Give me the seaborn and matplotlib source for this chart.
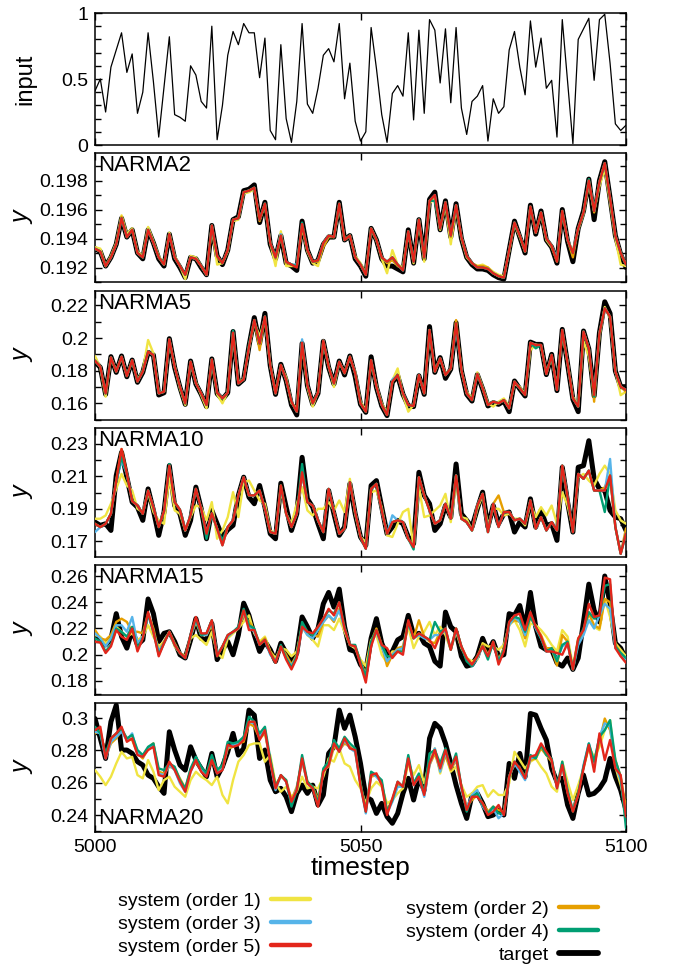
import numpy as np
import matplotlib
matplotlib.use("Agg")
import matplotlib.pyplot as plt
import seaborn as sns
from matplotlib.lines import Line2D
from matplotlib.ticker import MultipleLocator, FixedLocator, FuncFormatter

sns.set_style("ticks")
plt.rcParams["font.family"] = ["Liberation Sans", "DejaVu Sans"]
for key in ("text.color", "axes.labelcolor", "xtick.color", "ytick.color",
            "axes.edgecolor"):
    plt.rcParams[key] = "black"

T0 = 5000

# ---------------------------------------------------------------- input signal
u_input = [0.41, 0.5, 0.25, 0.59, 0.72, 0.85, 0.55, 0.69, 0.24, 0.4,
           0.85, 0.48, 0.06, 0.44, 0.82, 0.23, 0.21, 0.18, 0.6, 0.53,
           0.33, 0.28, 0.9, 0.04, 0.3, 0.68, 0.86, 0.76, 0.92, 0.85,
           0.85, 0.51, 0.81, 0.11, 0.04, 0.76, 0.2, 0.02, 0.33, 0.92,
           0.31, 0.24, 0.43, 0.68, 0.73, 0.63, 0.92, 0.35, 0.62, 0.18,
           0.03, 0.1, 0.89, 0.58, 0.23, 0.02, 0.39, 0.45, 0.37, 0.85,
           0.19, 0.87, 0.24, 0.95, 0.87, 0.47, 0.88, 0.32, 0.89, 0.28,
           0.08, 0.33, 0.37, 0.45, 0.03, 0.35, 0.24, 0.29, 0.72, 0.86,
           0.59, 0.38, 0.94, 0.59, 0.81, 0.43, 0.49, 0.06, 0.95, 0.48,
           0.01, 0.8, 0.88, 0.96, 0.49, 0.95, 0.99, 0.62, 0.16, 0.11,
           0.15]

# ---------------------------------------------------------------- NARMA2
n2_target = [0.1933, 0.1931, 0.1921, 0.1927, 0.1936, 0.1954, 0.1941, 0.1946, 0.1930, 0.1926,
             0.1946, 0.1937, 0.1926, 0.1921, 0.1943, 0.1926, 0.1920, 0.1913, 0.1927, 0.1926,
             0.1920, 0.1915, 0.1949, 0.1928, 0.1922, 0.1932, 0.1953, 0.1955, 0.1973, 0.1974,
             0.1977, 0.1951, 0.1965, 0.1936, 0.1926, 0.1942, 0.1923, 0.1921, 0.1918, 0.1952,
             0.1932, 0.1923, 0.1925, 0.1936, 0.1941, 0.1941, 0.1965, 0.1939, 0.1942, 0.1926,
             0.1921, 0.1914, 0.1947, 0.1939, 0.1926, 0.1921, 0.1921, 0.1919, 0.1917, 0.1946,
             0.1923, 0.1953, 0.1926, 0.1967, 0.1972, 0.1946, 0.1966, 0.1941, 0.1964, 0.1940,
             0.1927, 0.1922, 0.1919, 0.1919, 0.1918, 0.1915, 0.1913, 0.1912, 0.1932, 0.1952,
             0.1941, 0.1930, 0.1963, 0.1943, 0.1959, 0.1939, 0.1934, 0.1923, 0.1960, 0.1938,
             0.1924, 0.1947, 0.1959, 0.1981, 0.1953, 0.1980, 0.1993, 0.1968, 0.1942, 0.1929,
             0.1920]
n2_order1 = [0.1934, 0.1933, 0.1921, 0.1928, 0.1937, 0.1956, 0.1943, 0.1947, 0.1931, 0.1928,
             0.1948, 0.1938, 0.1928, 0.1922, 0.1944, 0.1928, 0.1921, 0.1912, 0.1928, 0.1927,
             0.1921, 0.1915, 0.1948, 0.1922, 0.1923, 0.1931, 0.1952, 0.1953, 0.1971, 0.1972,
             0.1974, 0.1953, 0.1963, 0.1937, 0.1921, 0.1945, 0.1921, 0.1921, 0.1921, 0.1948,
             0.1931, 0.1923, 0.1921, 0.1936, 0.1942, 0.1941, 0.1962, 0.1939, 0.1942, 0.1928,
             0.1923, 0.1916, 0.1946, 0.1939, 0.1926, 0.1916, 0.1932, 0.1922, 0.1920, 0.1944,
             0.1923, 0.1952, 0.1924, 0.1964, 0.1968, 0.1946, 0.1963, 0.1936, 0.1961, 0.1940,
             0.1927, 0.1923, 0.1921, 0.1922, 0.1920, 0.1917, 0.1915, 0.1914, 0.1931, 0.1950,
             0.1941, 0.1931, 0.1961, 0.1944, 0.1957, 0.1939, 0.1934, 0.1925, 0.1958, 0.1939,
             0.1931, 0.1946, 0.1957, 0.1978, 0.1959, 0.1976, 0.1988, 0.1965, 0.1940, 0.1922,
             0.1921]
n2_order2 = [0.1933, 0.1931, 0.1921, 0.1927, 0.1936, 0.1955, 0.1941, 0.1946, 0.1930, 0.1927,
             0.1946, 0.1937, 0.1927, 0.1922, 0.1943, 0.1927, 0.1921, 0.1915, 0.1927, 0.1926,
             0.1921, 0.1915, 0.1949, 0.1927, 0.1923, 0.1932, 0.1953, 0.1954, 0.1972, 0.1973,
             0.1975, 0.1952, 0.1964, 0.1937, 0.1926, 0.1942, 0.1923, 0.1922, 0.1921, 0.1949,
             0.1932, 0.1924, 0.1924, 0.1934, 0.1941, 0.1941, 0.1964, 0.1939, 0.1942, 0.1927,
             0.1922, 0.1915, 0.1947, 0.1939, 0.1927, 0.1923, 0.1925, 0.1921, 0.1919, 0.1945,
             0.1924, 0.1953, 0.1926, 0.1966, 0.1969, 0.1947, 0.1965, 0.1941, 0.1963, 0.1941,
             0.1928, 0.1923, 0.1921, 0.1921, 0.1920, 0.1916, 0.1914, 0.1913, 0.1932, 0.1951,
             0.1942, 0.1931, 0.1962, 0.1944, 0.1958, 0.1940, 0.1935, 0.1924, 0.1959, 0.1939,
             0.1927, 0.1947, 0.1958, 0.1980, 0.1958, 0.1979, 0.1992, 0.1968, 0.1942, 0.1930,
             0.1922]
n2_order3 = [0.1933, 0.1931, 0.1921, 0.1927, 0.1936, 0.1954, 0.1941, 0.1946, 0.1930, 0.1927,
             0.1946, 0.1937, 0.1927, 0.1922, 0.1943, 0.1927, 0.1921, 0.1915, 0.1927, 0.1926,
             0.1921, 0.1915, 0.1949, 0.1928, 0.1923, 0.1932, 0.1953, 0.1954, 0.1972, 0.1973,
             0.1975, 0.1953, 0.1964, 0.1937, 0.1927, 0.1943, 0.1924, 0.1922, 0.1922, 0.1950,
             0.1932, 0.1924, 0.1925, 0.1937, 0.1942, 0.1941, 0.1964, 0.1939, 0.1942, 0.1927,
             0.1922, 0.1915, 0.1947, 0.1939, 0.1927, 0.1924, 0.1927, 0.1922, 0.1918, 0.1945,
             0.1924, 0.1953, 0.1927, 0.1966, 0.1970, 0.1947, 0.1965, 0.1942, 0.1963, 0.1941,
             0.1928, 0.1923, 0.1920, 0.1920, 0.1919, 0.1916, 0.1914, 0.1913, 0.1932, 0.1951,
             0.1942, 0.1931, 0.1962, 0.1944, 0.1958, 0.1940, 0.1935, 0.1926, 0.1959, 0.1939,
             0.1930, 0.1947, 0.1958, 0.1980, 0.1959, 0.1979, 0.1992, 0.1968, 0.1942, 0.1930,
             0.1922]
n2_order4 = [0.1933, 0.1931, 0.1921, 0.1927, 0.1936, 0.1954, 0.1941, 0.1946, 0.1930, 0.1927,
             0.1946, 0.1937, 0.1927, 0.1922, 0.1943, 0.1927, 0.1921, 0.1915, 0.1927, 0.1926,
             0.1921, 0.1915, 0.1949, 0.1928, 0.1923, 0.1932, 0.1953, 0.1954, 0.1972, 0.1973,
             0.1975, 0.1953, 0.1964, 0.1937, 0.1927, 0.1942, 0.1924, 0.1922, 0.1921, 0.1951,
             0.1932, 0.1924, 0.1925, 0.1937, 0.1942, 0.1941, 0.1964, 0.1939, 0.1942, 0.1927,
             0.1922, 0.1915, 0.1947, 0.1939, 0.1927, 0.1924, 0.1927, 0.1922, 0.1918, 0.1945,
             0.1924, 0.1953, 0.1927, 0.1966, 0.1966, 0.1947, 0.1965, 0.1942, 0.1963, 0.1941,
             0.1928, 0.1923, 0.1920, 0.1920, 0.1919, 0.1916, 0.1914, 0.1913, 0.1932, 0.1951,
             0.1942, 0.1931, 0.1962, 0.1944, 0.1958, 0.1940, 0.1935, 0.1924, 0.1959, 0.1939,
             0.1930, 0.1947, 0.1958, 0.1981, 0.1959, 0.1979, 0.1992, 0.1968, 0.1942, 0.1930,
             0.1922]
n2_order5 = [0.1933, 0.1931, 0.1921, 0.1927, 0.1936, 0.1954, 0.1941, 0.1946, 0.1930, 0.1927,
             0.1946, 0.1937, 0.1927, 0.1922, 0.1943, 0.1927, 0.1921, 0.1915, 0.1927, 0.1926,
             0.1921, 0.1915, 0.1949, 0.1928, 0.1923, 0.1932, 0.1953, 0.1954, 0.1972, 0.1973,
             0.1975, 0.1953, 0.1964, 0.1937, 0.1927, 0.1942, 0.1924, 0.1922, 0.1920, 0.1950,
             0.1932, 0.1924, 0.1925, 0.1937, 0.1942, 0.1941, 0.1964, 0.1939, 0.1942, 0.1927,
             0.1922, 0.1915, 0.1947, 0.1939, 0.1927, 0.1924, 0.1927, 0.1922, 0.1918, 0.1945,
             0.1924, 0.1953, 0.1927, 0.1966, 0.1970, 0.1947, 0.1965, 0.1942, 0.1963, 0.1941,
             0.1928, 0.1923, 0.1920, 0.1920, 0.1919, 0.1916, 0.1914, 0.1913, 0.1932, 0.1951,
             0.1942, 0.1931, 0.1962, 0.1944, 0.1958, 0.1940, 0.1935, 0.1924, 0.1959, 0.1939,
             0.1930, 0.1947, 0.1958, 0.1980, 0.1959, 0.1979, 0.1992, 0.1968, 0.1942, 0.1930,
             0.1922]

# ---------------------------------------------------------------- NARMA5
n5_target = [0.1855, 0.1820, 0.1655, 0.1886, 0.1790, 0.1890, 0.1763, 0.1865, 0.1729, 0.1790,
             0.1912, 0.1896, 0.1651, 0.1665, 0.1996, 0.1820, 0.1698, 0.1594, 0.1859, 0.1718,
             0.1655, 0.1580, 0.1872, 0.1659, 0.1625, 0.1665, 0.2040, 0.1718, 0.1747, 0.1951,
             0.2125, 0.1967, 0.2151, 0.1831, 0.1655, 0.1839, 0.1739, 0.1590, 0.1529, 0.1967,
             0.1708, 0.1594, 0.1661, 0.1980, 0.1820, 0.1718, 0.1859, 0.1774, 0.1890, 0.1764,
             0.1594, 0.1545, 0.1885, 0.1698, 0.1584, 0.1525, 0.1729, 0.1769, 0.1655, 0.1584,
             0.1580, 0.1769, 0.1655, 0.2070, 0.1790, 0.1880, 0.1753, 0.1810, 0.2094, 0.1800,
             0.1655, 0.1614, 0.1776, 0.1688, 0.1584, 0.1604, 0.1594, 0.1614, 0.1549, 0.1737,
             0.1688, 0.1645, 0.1975, 0.1961, 0.1961, 0.1776, 0.1900, 0.1678, 0.2053, 0.1841,
             0.1625, 0.1549, 0.2043, 0.1933, 0.1645, 0.2033, 0.2222, 0.2151, 0.1798, 0.1702,
             0.1702]
n5_order1 = [0.1890, 0.1820, 0.1641, 0.1878, 0.1800, 0.1880, 0.1770, 0.1860, 0.1740, 0.1800,
             0.1988, 0.1906, 0.1665, 0.1671, 0.1980, 0.1830, 0.1690, 0.1590, 0.1845, 0.1730,
             0.1650, 0.1570, 0.1860, 0.1655, 0.1600, 0.1670, 0.2020, 0.1730, 0.1750, 0.1940,
             0.2100, 0.2008, 0.2120, 0.1840, 0.1665, 0.1830, 0.1760, 0.1600, 0.1570, 0.1960,
             0.1700, 0.1580, 0.1670, 0.1975, 0.1830, 0.1700, 0.1850, 0.1790, 0.1880, 0.1790,
             0.1610, 0.1560, 0.1850, 0.1710, 0.1600, 0.1540, 0.1740, 0.1814, 0.1650, 0.1549,
             0.1590, 0.1760, 0.1670, 0.2030, 0.1800, 0.1870, 0.1780, 0.1810, 0.2090, 0.1800,
             0.1670, 0.1630, 0.1790, 0.1700, 0.1600, 0.1580, 0.1610, 0.1630, 0.1580, 0.1720,
             0.1700, 0.1660, 0.1926, 0.1960, 0.1950, 0.1790, 0.1880, 0.1700, 0.2030, 0.1850,
             0.1640, 0.1590, 0.1980, 0.1886, 0.1660, 0.2010, 0.2190, 0.2120, 0.1800, 0.1650,
             0.1672]
n5_order2 = [0.1861, 0.1824, 0.1661, 0.1882, 0.1794, 0.1886, 0.1767, 0.1865, 0.1733, 0.1794,
             0.1916, 0.1896, 0.1661, 0.1671, 0.1992, 0.1824, 0.1702, 0.1600, 0.1855, 0.1722,
             0.1661, 0.1590, 0.1869, 0.1665, 0.1631, 0.1665, 0.2033, 0.1722, 0.1747, 0.1947,
             0.2110, 0.1926, 0.2131, 0.1835, 0.1661, 0.1835, 0.1743, 0.1610, 0.1549, 0.1971,
             0.1712, 0.1600, 0.1665, 0.1984, 0.1824, 0.1722, 0.1855, 0.1784, 0.1886, 0.1784,
             0.1600, 0.1549, 0.1865, 0.1702, 0.1590, 0.1529, 0.1733, 0.1773, 0.1661, 0.1590,
             0.1584, 0.1773, 0.1661, 0.2049, 0.1794, 0.1876, 0.1773, 0.1814, 0.2110, 0.1804,
             0.1661, 0.1620, 0.1780, 0.1692, 0.1590, 0.1610, 0.1600, 0.1620, 0.1569, 0.1733,
             0.1692, 0.1651, 0.1971, 0.1957, 0.1957, 0.1780, 0.1896, 0.1682, 0.2049, 0.1845,
             0.1631, 0.1580, 0.2039, 0.1937, 0.1610, 0.2029, 0.2182, 0.2131, 0.1794, 0.1702,
             0.1670]
n5_order3 = [0.1861, 0.1824, 0.1661, 0.1882, 0.1794, 0.1886, 0.1767, 0.1865, 0.1733, 0.1794,
             0.1916, 0.1896, 0.1661, 0.1671, 0.1992, 0.1824, 0.1702, 0.1600, 0.1855, 0.1722,
             0.1661, 0.1590, 0.1869, 0.1665, 0.1631, 0.1665, 0.2033, 0.1722, 0.1747, 0.1947,
             0.2110, 0.1967, 0.2131, 0.1835, 0.1661, 0.1835, 0.1743, 0.1610, 0.1549, 0.1992,
             0.1712, 0.1600, 0.1665, 0.1984, 0.1824, 0.1722, 0.1855, 0.1784, 0.1886, 0.1784,
             0.1600, 0.1549, 0.1865, 0.1702, 0.1590, 0.1529, 0.1745, 0.1773, 0.1661, 0.1590,
             0.1584, 0.1773, 0.1661, 0.2049, 0.1794, 0.1876, 0.1773, 0.1814, 0.2070, 0.1804,
             0.1661, 0.1620, 0.1780, 0.1692, 0.1590, 0.1610, 0.1600, 0.1620, 0.1569, 0.1733,
             0.1692, 0.1651, 0.1971, 0.1957, 0.1957, 0.1780, 0.1896, 0.1682, 0.2049, 0.1845,
             0.1631, 0.1580, 0.2039, 0.1937, 0.1651, 0.2029, 0.2182, 0.2131, 0.1794, 0.1702,
             0.1682]
n5_order4 = [0.1861, 0.1824, 0.1661, 0.1882, 0.1794, 0.1886, 0.1767, 0.1865, 0.1733, 0.1794,
             0.1916, 0.1896, 0.1661, 0.1671, 0.1992, 0.1824, 0.1702, 0.1600, 0.1855, 0.1722,
             0.1661, 0.1590, 0.1869, 0.1665, 0.1631, 0.1665, 0.2045, 0.1722, 0.1747, 0.1960,
             0.2110, 0.1967, 0.2131, 0.1835, 0.1661, 0.1835, 0.1743, 0.1610, 0.1549, 0.1971,
             0.1712, 0.1600, 0.1665, 0.1984, 0.1824, 0.1722, 0.1855, 0.1784, 0.1886, 0.1784,
             0.1600, 0.1549, 0.1865, 0.1702, 0.1590, 0.1529, 0.1733, 0.1773, 0.1661, 0.1590,
             0.1584, 0.1773, 0.1661, 0.2049, 0.1794, 0.1876, 0.1773, 0.1814, 0.2090, 0.1804,
             0.1661, 0.1620, 0.1780, 0.1692, 0.1590, 0.1610, 0.1600, 0.1620, 0.1569, 0.1733,
             0.1692, 0.1651, 0.1971, 0.1937, 0.1957, 0.1780, 0.1896, 0.1682, 0.2049, 0.1845,
             0.1631, 0.1580, 0.2039, 0.1937, 0.1641, 0.2029, 0.2182, 0.2131, 0.1794, 0.1702,
             0.1682]
n5_order5 = [0.1861, 0.1824, 0.1661, 0.1882, 0.1794, 0.1886, 0.1767, 0.1865, 0.1733, 0.1794,
             0.1916, 0.1896, 0.1661, 0.1671, 0.1992, 0.1824, 0.1702, 0.1600, 0.1855, 0.1722,
             0.1661, 0.1590, 0.1869, 0.1665, 0.1631, 0.1665, 0.2033, 0.1722, 0.1747, 0.1947,
             0.2110, 0.1967, 0.2131, 0.1835, 0.1661, 0.1835, 0.1743, 0.1610, 0.1549, 0.1971,
             0.1712, 0.1600, 0.1665, 0.1984, 0.1824, 0.1722, 0.1855, 0.1784, 0.1886, 0.1784,
             0.1600, 0.1549, 0.1865, 0.1702, 0.1590, 0.1529, 0.1733, 0.1773, 0.1661, 0.1590,
             0.1584, 0.1773, 0.1661, 0.2049, 0.1794, 0.1876, 0.1773, 0.1814, 0.2090, 0.1804,
             0.1661, 0.1620, 0.1780, 0.1692, 0.1590, 0.1610, 0.1600, 0.1620, 0.1569, 0.1733,
             0.1692, 0.1651, 0.1971, 0.1957, 0.1957, 0.1780, 0.1896, 0.1682, 0.2049, 0.1845,
             0.1631, 0.1580, 0.2039, 0.1937, 0.1651, 0.2029, 0.2182, 0.2131, 0.1794, 0.1702,
             0.1682]

# ---------------------------------------------------------------- NARMA10
n10_target = [0.1818, 0.1798, 0.1808, 0.1767, 0.2104, 0.2247, 0.2094, 0.1941, 0.1910, 0.1829,
              0.2022, 0.1890, 0.1737, 0.1880, 0.2165, 0.1920, 0.1869, 0.1737, 0.1829, 0.2033,
              0.1900, 0.1716, 0.1890, 0.1808, 0.1727, 0.1771, 0.1798, 0.1982, 0.2094, 0.1971,
              0.1931, 0.2043, 0.1910, 0.1747, 0.1716, 0.2057, 0.1910, 0.1767, 0.1869, 0.2216,
              0.1961, 0.1910, 0.1808, 0.1716, 0.2012, 0.1869, 0.1737, 0.1788, 0.2053, 0.1869,
              0.1727, 0.1676, 0.2043, 0.2073, 0.1910, 0.1747, 0.1788, 0.1829, 0.1808, 0.1727,
              0.1686, 0.2124, 0.1982, 0.1931, 0.1767, 0.1808, 0.1920, 0.1849, 0.2175, 0.1869,
              0.1829, 0.1788, 0.1900, 0.2002, 0.1788, 0.1920, 0.1808, 0.1869, 0.1880, 0.1757,
              0.1818, 0.1788, 0.1961, 0.1788, 0.1890, 0.1798, 0.1808, 0.1706, 0.2155, 0.1941,
              0.1757, 0.2155, 0.2165, 0.2318, 0.2084, 0.2022, 0.2012, 0.1890, 0.1849, 0.1839,
              0.1767]
n10_order1 = [0.1839, 0.1839, 0.1859, 0.1931, 0.2022, 0.2114, 0.2043, 0.2012, 0.1900, 0.1880,
              0.2002, 0.1880, 0.1829, 0.1808, 0.2094, 0.1890, 0.1869, 0.1767, 0.1849, 0.1920,
              0.1910, 0.1829, 0.1941, 0.1716, 0.1767, 0.1849, 0.2002, 0.1849, 0.2063, 0.2073,
              0.2012, 0.1951, 0.1931, 0.1767, 0.1747, 0.2012, 0.1869, 0.1808, 0.1931, 0.2033,
              0.1890, 0.1859, 0.1900, 0.1900, 0.1941, 0.1890, 0.1951, 0.1880, 0.2084, 0.1869,
              0.1727, 0.1696, 0.2002, 0.2012, 0.1910, 0.1737, 0.1727, 0.1808, 0.1880, 0.1900,
              0.1665, 0.2033, 0.1849, 0.1859, 0.1890, 0.1920, 0.1992, 0.1818, 0.2063, 0.1849,
              0.1839, 0.1767, 0.1900, 0.1982, 0.1798, 0.1900, 0.1900, 0.1859, 0.1869, 0.1839,
              0.1839, 0.1798, 0.1931, 0.1849, 0.1910, 0.1859, 0.1920, 0.1808, 0.2002, 0.1920,
              0.1778, 0.2094, 0.2114, 0.2073, 0.2043, 0.2114, 0.2165, 0.2114, 0.1890, 0.1829,
              0.1808]
n10_order2 = [0.1808, 0.1788, 0.1808, 0.1869, 0.2073, 0.2267, 0.2114, 0.1947, 0.1920, 0.1869,
              0.2012, 0.1905, 0.1788, 0.1886, 0.2165, 0.1941, 0.1894, 0.1767, 0.1859, 0.2022,
              0.1900, 0.1747, 0.1873, 0.1778, 0.1676, 0.1788, 0.1829, 0.1982, 0.2094, 0.1982,
              0.1982, 0.2012, 0.1900, 0.1757, 0.1747, 0.2043, 0.1869, 0.1788, 0.1869, 0.2124,
              0.1941, 0.1920, 0.1829, 0.1757, 0.2022, 0.1880, 0.1747, 0.1778, 0.2063, 0.1880,
              0.1727, 0.1655, 0.2022, 0.2053, 0.1890, 0.1747, 0.1818, 0.1829, 0.1818, 0.1716,
              0.1665, 0.2094, 0.1982, 0.1890, 0.1808, 0.1829, 0.1931, 0.1839, 0.2104, 0.1839,
              0.1818, 0.1767, 0.1920, 0.1992, 0.1757, 0.1931, 0.1982, 0.1880, 0.1880, 0.1829,
              0.1839, 0.1808, 0.1951, 0.1778, 0.1849, 0.1767, 0.1818, 0.1767, 0.2165, 0.1960,
              0.1757, 0.2114, 0.2084, 0.2134, 0.2012, 0.2012, 0.2032, 0.2104, 0.1788, 0.1624,
              0.1780]
n10_order3 = [0.1757, 0.1788, 0.1808, 0.1869, 0.2073, 0.2196, 0.2114, 0.1947, 0.1920, 0.1869,
              0.2012, 0.1910, 0.1788, 0.1886, 0.2165, 0.1941, 0.1894, 0.1767, 0.1859, 0.2022,
              0.1900, 0.1747, 0.1873, 0.1778, 0.1676, 0.1788, 0.1829, 0.1982, 0.2094, 0.1982,
              0.1982, 0.2012, 0.1900, 0.1757, 0.1747, 0.2030, 0.1869, 0.1788, 0.1869, 0.2124,
              0.1941, 0.1920, 0.1829, 0.1757, 0.2022, 0.1880, 0.1747, 0.1778, 0.2063, 0.1880,
              0.1727, 0.1655, 0.2022, 0.2053, 0.1890, 0.1747, 0.1860, 0.1829, 0.1818, 0.1716,
              0.1665, 0.2094, 0.1982, 0.1890, 0.1808, 0.1829, 0.1931, 0.1839, 0.2104, 0.1839,
              0.1818, 0.1767, 0.1920, 0.1992, 0.1757, 0.1931, 0.1788, 0.1880, 0.1880, 0.1829,
              0.1839, 0.1808, 0.1951, 0.1778, 0.1849, 0.1767, 0.1818, 0.1767, 0.2165, 0.1971,
              0.1757, 0.2114, 0.2084, 0.2134, 0.2012, 0.2012, 0.2012, 0.2206, 0.1788, 0.1624,
              0.1747]
n10_order4 = [0.1808, 0.1788, 0.1808, 0.1869, 0.2073, 0.2216, 0.2114, 0.1947, 0.1920, 0.1869,
              0.2012, 0.1910, 0.1788, 0.1886, 0.2175, 0.1941, 0.1894, 0.1767, 0.1859, 0.2022,
              0.1900, 0.1716, 0.1873, 0.1778, 0.1706, 0.1788, 0.1829, 0.1982, 0.2094, 0.1982,
              0.1982, 0.2012, 0.1900, 0.1757, 0.1747, 0.2043, 0.1869, 0.1788, 0.1869, 0.2175,
              0.1941, 0.1920, 0.1829, 0.1757, 0.2022, 0.1880, 0.1747, 0.1778, 0.2063, 0.1880,
              0.1727, 0.1655, 0.2022, 0.2053, 0.1890, 0.1747, 0.1818, 0.1829, 0.1818, 0.1716,
              0.1650, 0.2094, 0.1982, 0.1890, 0.1808, 0.1829, 0.1931, 0.1839, 0.2104, 0.1839,
              0.1818, 0.1767, 0.1920, 0.1992, 0.1757, 0.1931, 0.1788, 0.1880, 0.1880, 0.1829,
              0.1839, 0.1808, 0.1951, 0.1778, 0.1849, 0.1767, 0.1818, 0.1767, 0.2165, 0.1971,
              0.1757, 0.2114, 0.2084, 0.2134, 0.2012, 0.2012, 0.1880, 0.2104, 0.1788, 0.1624,
              0.1747]
n10_order5 = [0.1808, 0.1788, 0.1808, 0.1869, 0.2073, 0.2267, 0.2114, 0.1947, 0.1920, 0.1869,
              0.2012, 0.1910, 0.1788, 0.1886, 0.2165, 0.1941, 0.1894, 0.1767, 0.1859, 0.2022,
              0.1900, 0.1747, 0.1873, 0.1778, 0.1676, 0.1788, 0.1829, 0.1982, 0.2094, 0.1982,
              0.1982, 0.2012, 0.1900, 0.1757, 0.1747, 0.2043, 0.1869, 0.1788, 0.1869, 0.2124,
              0.1941, 0.1920, 0.1829, 0.1757, 0.2022, 0.1880, 0.1747, 0.1778, 0.2063, 0.1880,
              0.1727, 0.1655, 0.2022, 0.2053, 0.1890, 0.1747, 0.1818, 0.1829, 0.1818, 0.1716,
              0.1665, 0.2094, 0.1982, 0.1890, 0.1808, 0.1829, 0.1931, 0.1839, 0.2104, 0.1839,
              0.1818, 0.1767, 0.1920, 0.1992, 0.1757, 0.1931, 0.1788, 0.1880, 0.1880, 0.1829,
              0.1839, 0.1808, 0.1951, 0.1778, 0.1849, 0.1767, 0.1818, 0.1767, 0.2165, 0.1971,
              0.1757, 0.2114, 0.2084, 0.2134, 0.2012, 0.2012, 0.2012, 0.2104, 0.1788, 0.1624,
              0.1747]

# ---------------------------------------------------------------- NARMA15
n15_target = [0.2150, 0.2113, 0.2075, 0.2118, 0.2313, 0.2138, 0.2050, 0.2188, 0.2075, 0.2113,
              0.2425, 0.2313, 0.2100, 0.2163, 0.2175, 0.2100, 0.2000, 0.1975, 0.2113, 0.2275,
              0.2125, 0.2113, 0.2238, 0.1963, 0.2038, 0.2100, 0.2000, 0.2150, 0.2393, 0.2300,
              0.2150, 0.2025, 0.2100, 0.2038, 0.1950, 0.2088, 0.2013, 0.1938, 0.2013, 0.2288,
              0.2213, 0.2125, 0.2200, 0.2388, 0.2475, 0.2363, 0.2500, 0.2213, 0.2038, 0.2025,
              0.1925, 0.1875, 0.2125, 0.2275, 0.2088, 0.1988, 0.2025, 0.2113, 0.2138, 0.2300,
              0.2150, 0.2163, 0.2088, 0.2063, 0.1950, 0.1913, 0.2325, 0.2213, 0.2175, 0.1988,
              0.1913, 0.1925, 0.1988, 0.2125, 0.2025, 0.2100, 0.1988, 0.2000, 0.2313, 0.2300,
              0.2375, 0.2200, 0.2475, 0.2213, 0.2063, 0.2038, 0.2038, 0.1938, 0.1913, 0.1975,
              0.1888, 0.1975, 0.2250, 0.2538, 0.2338, 0.2250, 0.2600, 0.2388, 0.2088, 0.2050,
              0.1963]
n15_order1 = [0.2150, 0.2138, 0.2088, 0.2125, 0.2213, 0.2175, 0.2138, 0.2163, 0.2113, 0.2138,
              0.2225, 0.2138, 0.2063, 0.2100, 0.2175, 0.2063, 0.2013, 0.1988, 0.2125, 0.2150,
              0.2113, 0.2075, 0.2175, 0.2013, 0.1975, 0.2125, 0.2163, 0.2200, 0.2250, 0.2300,
              0.2163, 0.2100, 0.2138, 0.2025, 0.1975, 0.2050, 0.2038, 0.1988, 0.2025, 0.2213,
              0.2150, 0.2113, 0.2063, 0.2225, 0.2225, 0.2188, 0.2275, 0.2175, 0.2075, 0.2050,
              0.1963, 0.1913, 0.2113, 0.2150, 0.2000, 0.1938, 0.2025, 0.2025, 0.2050, 0.2213,
              0.2050, 0.2138, 0.2175, 0.2250, 0.2150, 0.2213, 0.2150, 0.2038, 0.2175, 0.2050,
              0.1975, 0.1950, 0.1963, 0.2088, 0.2063, 0.2063, 0.2038, 0.2075, 0.2225, 0.2263,
              0.2188, 0.2063, 0.2238, 0.2225, 0.2188, 0.2138, 0.2075, 0.2025, 0.2188, 0.2138,
              0.1913, 0.2125, 0.2175, 0.2263, 0.2213, 0.2188, 0.2425, 0.2288, 0.2088, 0.2038,
              0.1988]
n15_order2 = [0.2188, 0.2125, 0.2113, 0.2150, 0.2250, 0.2275, 0.2250, 0.2175, 0.2175, 0.2163,
              0.2313, 0.2200, 0.2025, 0.2100, 0.2175, 0.2088, 0.2013, 0.1988, 0.2138, 0.2250,
              0.2150, 0.2150, 0.2225, 0.2000, 0.2063, 0.2138, 0.2175, 0.2200, 0.2300, 0.2250,
              0.2188, 0.2088, 0.2125, 0.2025, 0.1950, 0.2063, 0.2000, 0.1925, 0.2000, 0.2225,
              0.2175, 0.2150, 0.2138, 0.2250, 0.2300, 0.2250, 0.2350, 0.2200, 0.2075, 0.2063,
              0.1950, 0.1850, 0.2100, 0.2200, 0.2075, 0.1913, 0.2000, 0.2050, 0.2063, 0.2250,
              0.2125, 0.2263, 0.2138, 0.2100, 0.2088, 0.2175, 0.2175, 0.2038, 0.2200, 0.2063,
              0.1975, 0.1925, 0.1988, 0.2075, 0.2000, 0.2088, 0.1963, 0.2050, 0.2238, 0.2263,
              0.2250, 0.2125, 0.2288, 0.2213, 0.2150, 0.2050, 0.2050, 0.1918, 0.2150, 0.2100,
              0.1888, 0.2113, 0.2175, 0.2313, 0.2225, 0.2200, 0.2425, 0.2400, 0.2075, 0.2013,
              0.1963]
n15_order3 = [0.2163, 0.2125, 0.2063, 0.2125, 0.2225, 0.2225, 0.2175, 0.2288, 0.2088, 0.2138,
              0.2300, 0.2175, 0.2025, 0.2088, 0.2175, 0.2075, 0.2013, 0.1975, 0.2138, 0.2263,
              0.2150, 0.2150, 0.2250, 0.2000, 0.2063, 0.2138, 0.2175, 0.2200, 0.2325, 0.2213,
              0.2175, 0.2075, 0.2113, 0.2000, 0.1950, 0.2063, 0.1975, 0.1913, 0.1988, 0.2213,
              0.2150, 0.2125, 0.2188, 0.2250, 0.2300, 0.2263, 0.2338, 0.2200, 0.2075, 0.2063,
              0.1938, 0.1838, 0.2088, 0.2175, 0.2063, 0.1950, 0.2000, 0.2038, 0.2050, 0.2238,
              0.2125, 0.2150, 0.2125, 0.2113, 0.2150, 0.2150, 0.2188, 0.2038, 0.2188, 0.2063,
              0.1963, 0.1913, 0.1975, 0.2063, 0.1988, 0.2088, 0.1950, 0.2038, 0.2225, 0.2288,
              0.2250, 0.2150, 0.2313, 0.2200, 0.2125, 0.2025, 0.2038, 0.1963, 0.2063, 0.2088,
              0.1888, 0.2075, 0.2150, 0.2263, 0.2200, 0.2300, 0.2388, 0.2350, 0.2050, 0.2013,
              0.1963]
n15_order4 = [0.2125, 0.2100, 0.2025, 0.2075, 0.2200, 0.2175, 0.2138, 0.2213, 0.2050, 0.2125,
              0.2313, 0.2175, 0.2000, 0.2088, 0.2175, 0.2075, 0.2013, 0.1975, 0.2150, 0.2275,
              0.2150, 0.2163, 0.2263, 0.1988, 0.2063, 0.2150, 0.2175, 0.2213, 0.2350, 0.2225,
              0.2200, 0.2075, 0.2113, 0.2013, 0.1938, 0.2075, 0.1975, 0.1900, 0.1988, 0.2250,
              0.2175, 0.2150, 0.2213, 0.2275, 0.2338, 0.2313, 0.2400, 0.2213, 0.2075, 0.2075,
              0.1938, 0.1838, 0.2100, 0.2188, 0.2075, 0.1988, 0.1988, 0.2025, 0.2025, 0.2250,
              0.2125, 0.2163, 0.2138, 0.2113, 0.2250, 0.2175, 0.2200, 0.2038, 0.2200, 0.2063,
              0.1950, 0.1913, 0.1988, 0.2063, 0.1963, 0.2100, 0.1950, 0.2038, 0.2250, 0.2288,
              0.2275, 0.2175, 0.2288, 0.2213, 0.2125, 0.2025, 0.2050, 0.1950, 0.2075, 0.2100,
              0.1888, 0.2113, 0.2200, 0.2325, 0.2275, 0.2300, 0.2525, 0.2538, 0.2063, 0.2013,
              0.1975]
n15_order5 = [0.2100, 0.2093, 0.2013, 0.2063, 0.2188, 0.2138, 0.2113, 0.2200, 0.2025, 0.2125,
              0.2325, 0.2175, 0.1988, 0.2088, 0.2175, 0.2075, 0.2013, 0.1975, 0.2150, 0.2288,
              0.2163, 0.2163, 0.2263, 0.1988, 0.2063, 0.2150, 0.2175, 0.2200, 0.2338, 0.2188,
              0.2188, 0.2075, 0.2113, 0.2013, 0.1938, 0.2063, 0.1963, 0.1888, 0.1975, 0.2213,
              0.2175, 0.2163, 0.2213, 0.2275, 0.2350, 0.2300, 0.2400, 0.2200, 0.2075, 0.2063,
              0.1925, 0.1788, 0.2063, 0.2188, 0.2075, 0.2050, 0.1975, 0.2025, 0.2000, 0.2263,
              0.2125, 0.2163, 0.2138, 0.2113, 0.2050, 0.2150, 0.2200, 0.2038, 0.2200, 0.2063,
              0.1975, 0.1925, 0.1988, 0.2063, 0.1988, 0.2100, 0.1925, 0.2025, 0.2250, 0.2300,
              0.2313, 0.2188, 0.2325, 0.2213, 0.2138, 0.2025, 0.2025, 0.2013, 0.2000, 0.2088,
              0.1888, 0.2125, 0.2188, 0.2388, 0.2288, 0.2300, 0.2588, 0.2575, 0.2050, 0.1988,
              0.1938]

# ---------------------------------------------------------------- NARMA20
n20_target = [0.2997, 0.2874, 0.2750, 0.2977, 0.3080, 0.2802, 0.2802, 0.2781, 0.2730, 0.2709,
              0.2647, 0.2627, 0.2575, 0.2534, 0.2915, 0.2802, 0.2709, 0.2678, 0.2822, 0.2740,
              0.2688, 0.2637, 0.2781, 0.2637, 0.2699, 0.2791, 0.2905, 0.2771, 0.2812, 0.3049,
              0.3018, 0.2750, 0.2802, 0.2616, 0.2544, 0.2565, 0.2513, 0.2421, 0.2534, 0.2585,
              0.2534, 0.2585, 0.2462, 0.2524, 0.2781, 0.2822, 0.3049, 0.2936, 0.3018, 0.2884,
              0.2719, 0.2513, 0.2493, 0.2410, 0.2472, 0.2390, 0.2349, 0.2410, 0.2534, 0.2627,
              0.2493, 0.2627, 0.2554, 0.2874, 0.2967, 0.2936, 0.2843, 0.2719, 0.2585, 0.2472,
              0.2379, 0.2524, 0.2534, 0.2472, 0.2390, 0.2400, 0.2431, 0.2400, 0.2719, 0.2627,
              0.2781, 0.2637, 0.3028, 0.3018, 0.2936, 0.2864, 0.2688, 0.2606, 0.2627, 0.2462,
              0.2379, 0.2534, 0.2647, 0.2524, 0.2534, 0.2565, 0.2616, 0.2750, 0.2637, 0.2554,
              0.2431]
n20_order1 = [0.2678, 0.2637, 0.2585, 0.2637, 0.2719, 0.2791, 0.2750, 0.2760, 0.2647, 0.2627,
              0.2740, 0.2668, 0.2554, 0.2616, 0.2637, 0.2575, 0.2544, 0.2513, 0.2616, 0.2668,
              0.2637, 0.2616, 0.2585, 0.2637, 0.2524, 0.2472, 0.2616, 0.2730, 0.2771, 0.2833,
              0.2843, 0.2843, 0.2730, 0.2771, 0.2596, 0.2544, 0.2575, 0.2513, 0.2544, 0.2637,
              0.2565, 0.2575, 0.2565, 0.2637, 0.2750, 0.2730, 0.2812, 0.2719, 0.2699, 0.2616,
              0.2565, 0.2472, 0.2565, 0.2606, 0.2575, 0.2472, 0.2493, 0.2534, 0.2565, 0.2719,
              0.2647, 0.2709, 0.2596, 0.2730, 0.2812, 0.2657, 0.2771, 0.2668, 0.2699, 0.2585,
              0.2513, 0.2534, 0.2575, 0.2585, 0.2513, 0.2554, 0.2524, 0.2524, 0.2596, 0.2791,
              0.2740, 0.2688, 0.2730, 0.2750, 0.2699, 0.2657, 0.2575, 0.2544, 0.2730, 0.2606,
              0.2493, 0.2585, 0.2688, 0.2822, 0.2760, 0.2822, 0.2925, 0.2987, 0.2699, 0.2585,
              0.2441]
n20_order2 = [0.2905, 0.2925, 0.2760, 0.2843, 0.2874, 0.2925, 0.2874, 0.2864, 0.2781, 0.2750,
              0.2812, 0.2843, 0.2668, 0.2657, 0.2699, 0.2688, 0.2626, 0.2565, 0.2678, 0.2730,
              0.2678, 0.2657, 0.2740, 0.2668, 0.2688, 0.2812, 0.2822, 0.2843, 0.2853, 0.2967,
              0.2946, 0.2874, 0.2905, 0.2740, 0.2585, 0.2637, 0.2616, 0.2493, 0.2575, 0.2730,
              0.2606, 0.2575, 0.2493, 0.2678, 0.2699, 0.2822, 0.2802, 0.2843, 0.2822, 0.2791,
              0.2596, 0.2431, 0.2637, 0.2647, 0.2596, 0.2431, 0.2493, 0.2585, 0.2585, 0.2740,
              0.2596, 0.2647, 0.2534, 0.2709, 0.2781, 0.2678, 0.2771, 0.2678, 0.2740, 0.2575,
              0.2452, 0.2493, 0.2524, 0.2472, 0.2421, 0.2452, 0.2431, 0.2421, 0.2637, 0.2719,
              0.2688, 0.2637, 0.2740, 0.2750, 0.2812, 0.2771, 0.2730, 0.2575, 0.2699, 0.2544,
              0.2431, 0.2534, 0.2699, 0.2822, 0.2709, 0.2853, 0.2997, 0.2925, 0.2740, 0.2637,
              0.2440]
n20_order3 = [0.2915, 0.2905, 0.2750, 0.2853, 0.2884, 0.2915, 0.2864, 0.2905, 0.2781, 0.2760,
              0.2812, 0.2833, 0.2657, 0.2647, 0.2709, 0.2678, 0.2596, 0.2544, 0.2668, 0.2740,
              0.2678, 0.2647, 0.2750, 0.2657, 0.2688, 0.2822, 0.2833, 0.2843, 0.2874, 0.2977,
              0.2967, 0.2884, 0.2925, 0.2730, 0.2554, 0.2647, 0.2606, 0.2472, 0.2565, 0.2740,
              0.2596, 0.2565, 0.2462, 0.2668, 0.2709, 0.2843, 0.2791, 0.2864, 0.2812, 0.2791,
              0.2585, 0.2410, 0.2657, 0.2637, 0.2596, 0.2410, 0.2482, 0.2575, 0.2575, 0.2760,
              0.2585, 0.2637, 0.2513, 0.2709, 0.2812, 0.2668, 0.2791, 0.2688, 0.2750, 0.2565,
              0.2441, 0.2524, 0.2554, 0.2452, 0.2410, 0.2441, 0.2380, 0.2410, 0.2637, 0.2719,
              0.2668, 0.2616, 0.2750, 0.2760, 0.2833, 0.2781, 0.2740, 0.2565, 0.2699, 0.2544,
              0.2431, 0.2524, 0.2709, 0.2843, 0.2719, 0.2884, 0.2967, 0.2946, 0.2709, 0.2616,
              0.2380]
n20_order4 = [0.2946, 0.2905, 0.2781, 0.2874, 0.2905, 0.2935, 0.2874, 0.2895, 0.2802, 0.2771,
              0.2822, 0.2843, 0.2688, 0.2678, 0.2719, 0.2699, 0.2616, 0.2565, 0.2688, 0.2760,
              0.2699, 0.2657, 0.2771, 0.2678, 0.2709, 0.2853, 0.2843, 0.2853, 0.2884, 0.3008,
              0.2977, 0.2905, 0.2946, 0.2750, 0.2575, 0.2647, 0.2616, 0.2452, 0.2554, 0.2771,
              0.2606, 0.2575, 0.2472, 0.2688, 0.2730, 0.2864, 0.2812, 0.2884, 0.2843, 0.2812,
              0.2596, 0.2421, 0.2668, 0.2647, 0.2616, 0.2421, 0.2493, 0.2606, 0.2575, 0.2771,
              0.2596, 0.2657, 0.2534, 0.2781, 0.2802, 0.2719, 0.2812, 0.2688, 0.2781, 0.2575,
              0.2421, 0.2513, 0.2534, 0.2462, 0.2410, 0.2452, 0.2410, 0.2410, 0.2637, 0.2730,
              0.2688, 0.2637, 0.2771, 0.2750, 0.2833, 0.2771, 0.2750, 0.2575, 0.2730, 0.2554,
              0.2421, 0.2534, 0.2699, 0.2843, 0.2730, 0.2884, 0.2925, 0.2987, 0.2740, 0.2637,
              0.2318]
n20_order5 = [0.2925, 0.2946, 0.2750, 0.2874, 0.2905, 0.2946, 0.2853, 0.2874, 0.2771, 0.2760,
              0.2802, 0.2822, 0.2647, 0.2637, 0.2730, 0.2678, 0.2606, 0.2544, 0.2668, 0.2740,
              0.2668, 0.2637, 0.2740, 0.2657, 0.2678, 0.2833, 0.2822, 0.2833, 0.2864, 0.2977,
              0.2977, 0.2864, 0.2925, 0.2730, 0.2565, 0.2647, 0.2606, 0.2482, 0.2554, 0.2750,
              0.2596, 0.2565, 0.2452, 0.2668, 0.2709, 0.2843, 0.2791, 0.2874, 0.2812, 0.2802,
              0.2580, 0.2421, 0.2647, 0.2658, 0.2585, 0.2400, 0.2503, 0.2606, 0.2575, 0.2750,
              0.2585, 0.2637, 0.2524, 0.2719, 0.2802, 0.2688, 0.2802, 0.2688, 0.2761, 0.2575,
              0.2431, 0.2513, 0.2513, 0.2472, 0.2400, 0.2421, 0.2462, 0.2400, 0.2637, 0.2730,
              0.2688, 0.2627, 0.2761, 0.2771, 0.2843, 0.2791, 0.2740, 0.2565, 0.2709, 0.2534,
              0.2421, 0.2524, 0.2688, 0.2833, 0.2668, 0.2905, 0.2740, 0.2864, 0.2688, 0.2647,
              0.2390]

# ---------------------------------------------------------------- styling
order_labels = ["system (order 1)", "system (order 2)", "system (order 3)",
                "system (order 4)", "system (order 5)"]
order_colors = ["#F0E442", "#E69F00", "#56B4E9", "#009E73", "#E3261B"]
target_color = "black"

# y tick labels per panel
n2_yticks = [0.192, 0.194, 0.196, 0.198]
n5_yticks = [0.16, 0.18, 0.20, 0.22]
n10_yticks = [0.17, 0.19, 0.21, 0.23]
n15_yticks = [0.18, 0.20, 0.22, 0.24, 0.26]
n20_yticks = [0.24, 0.26, 0.28, 0.30]

panels = [
    ("NARMA2", n2_target, [n2_order1, n2_order2, n2_order3, n2_order4, n2_order5],
     (0.191, 0.1999), n2_yticks, 0.001, "top"),
    ("NARMA5", n5_target, [n5_order1, n5_order2, n5_order3, n5_order4, n5_order5],
     (0.1498, 0.2288), n5_yticks, 0.01, "top"),
    ("NARMA10", n10_target, [n10_order1, n10_order2, n10_order3, n10_order4, n10_order5],
     (0.1604, 0.2396), n10_yticks, 0.01, "top"),
    ("NARMA15", n15_target, [n15_order1, n15_order2, n15_order3, n15_order4, n15_order5],
     (0.1693, 0.2684), n15_yticks, 0.01, "top"),
    ("NARMA20", n20_target, [n20_order1, n20_order2, n20_order3, n20_order4, n20_order5],
     (0.2295, 0.3093), n20_yticks, 0.01, "bottom"),
]

W, H = 678, 964
fig = plt.figure(figsize=(W / 100, H / 100), dpi=100)
fig.patch.set_facecolor("white")

left_px, right_px = 95, 626
rows_px = [(13, 145), (153, 282), (291, 420), (428, 557), (565, 695), (703, 832)]


def make_axes(top, bottom):
    return fig.add_axes([left_px / W, 1 - bottom / H,
                         (right_px - left_px) / W, (bottom - top) / H])


fmt = FuncFormatter(lambda v, p: f"{v:g}")


def style_axes(ax, ylim, yticks, minor, show_x):
    ax.set_xlim(5000, 5100)
    ax.set_ylim(*ylim)
    ax.xaxis.set_major_locator(MultipleLocator(50))
    ax.yaxis.set_major_locator(FixedLocator(yticks))
    ax.yaxis.set_minor_locator(MultipleLocator(minor))
    ax.yaxis.set_major_formatter(fmt)
    ax.xaxis.set_major_formatter(fmt)
    ax.tick_params(which="both", direction="in", top=True, right=True,
                   labelsize=14, width=1.0, colors="black")
    ax.tick_params(which="major", length=5, pad=5)
    ax.tick_params(which="minor", length=4)
    ax.tick_params(axis="x", labelbottom=show_x)
    for sp in ax.spines.values():
        sp.set_visible(True)
        sp.set_linewidth(1.1)
        sp.set_color("black")
    ax.set_xlabel("")


def draw(ax, values, color, lw, z):
    t = T0 + np.arange(len(values))
    sns.lineplot(x=t, y=np.asarray(values, dtype=float), ax=ax, color=color,
                 lw=lw, zorder=z, legend=False, estimator=None)


# input panel
ax_in = make_axes(*rows_px[0])
draw(ax_in, u_input, "black", 0.9, 2)
style_axes(ax_in, (0, 1), [0, 0.5, 1], 0.1, False)
ax_in.set_ylabel("input", fontsize=17)
ax_in.yaxis.set_label_coords(-0.11, 0.5)

for k, (name, target, orders, ylim, yticks, minor, pos) in enumerate(panels):
    ax = make_axes(*rows_px[k + 1])
    draw(ax, target, target_color, 3.6, 2)
    for j, (vals, col) in enumerate(zip(orders, order_colors)):
        draw(ax, vals, col, 1.7, 3 + j)
    style_axes(ax, ylim, yticks, minor, k == len(panels) - 1)
    ax.set_ylabel("y", fontsize=18, fontstyle="italic")
    ax.yaxis.set_label_coords(-0.115, 0.5)
    if pos == "top":
        ax.text(0.006, 0.985, name, transform=ax.transAxes, ha="left", va="top",
                fontsize=16, zorder=10)
    else:
        ax.text(0.006, 0.02, name, transform=ax.transAxes, ha="left", va="bottom",
                fontsize=16, zorder=10)

fig.text((left_px + right_px) / 2 / W, 1 - 868 / H, "timestep", ha="center",
         va="center", fontsize=19)


# legend in two staggered blocks
def handle(color, lw):
    return Line2D([0], [0], color=color, lw=lw)


left_items = [0, 2, 4]
right_items = [1, 3]
lh = [handle(order_colors[i], 3.2) for i in left_items]
ll = [order_labels[i] for i in left_items]
rh = [handle(order_colors[i], 3.2) for i in right_items] + [handle(target_color, 4.2)]
rl = [order_labels[i] for i in right_items] + ["target"]

common = dict(frameon=False, markerfirst=False, fontsize=14, handlelength=2.0,
              handletextpad=0.5, labelspacing=0.28, borderpad=0.0, loc="center")
fig.legend(lh, ll, bbox_to_anchor=(214 / W, 1 - 924 / H), **common)
fig.legend(rh, rl, bbox_to_anchor=(502 / W, 1 - 932 / H), **common)

fig.savefig("out.png", dpi=100, facecolor="white")
